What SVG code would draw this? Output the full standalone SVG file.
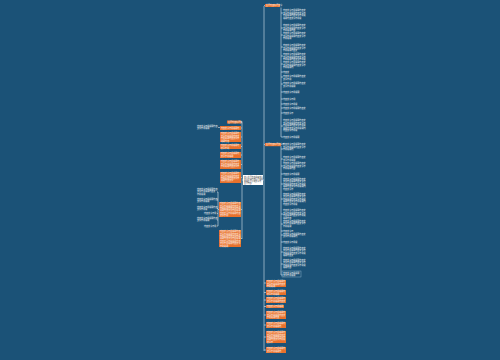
<svg xmlns="http://www.w3.org/2000/svg" width="500" height="360" viewBox="0 0 500 360">
<style>
.t{font-family:"Noto Sans CJK SC","Noto Sans",sans-serif;font-size:2.05px;fill:#ffffff}
.d{font-family:"Noto Sans CJK SC","Noto Sans",sans-serif;font-size:1.9px;fill:#333333}
.o{fill:#e8712c}
.ln{stroke:#d9e6ef;stroke-width:0.6;fill:none}
.ul{stroke:#9fc0d8;stroke-width:0.4}
</style>
<rect width="500" height="360" fill="#1b5277"/>
<g id="connectors" class="ln">
<path d="M262 180H264M264 6V351M264 5.5H265M264 144.5H265M264 283H266M264 292.5H266M264 300H266M264 306.5H266M264 315H266M264 325H266M264 337H266M264 350H266"/>
<path d="M281 7.5V137M281 13H283M281 28H283M281 35H283M281 47H283M281 56H283M281 64H283M281 72H283M281 77H283M281 84H283M281 92H283M281 99H283M281 104H283M281 108H283M281 113H283M281 126H283M281 137H283"/>
<path d="M281 146V275M281 149H283M281 159H283M281 166H283M281 174H283M281 184H283M281 199H283M281 214H283M281 224H283M281 231H283M281 235H283M281 242H283M281 252H283M281 264H283M281 275H283"/>
<path d="M243 180H242M242 122V239M242 122H241M242 128H241M242 137H241M242 146.5H241M242 155H241M242 164.5H241M242 177.5H241M242 209.5H241M242 238.5H241"/>
<path d="M220 127.5H218M219 209.5H218M218 192V226M218 192H217M218 200H217M218 208.5H217M218 213.5H217M218 220H217M218 226H217"/>
</g>
<g id="root"><rect x="243" y="175" width="20" height="10" fill="#ffffff"/><text class="d" x="244" y="177.5">中心主题内容说明文字<tspan x="244" dy="2.3">文字示例内容标题说明</tspan><tspan x="244" dy="2.3">说明主题示例文字内</tspan><tspan x="244" dy="2.3">主题内容</tspan></text></g>
<g id="r1"><rect class="o" x="265" y="4" width="15" height="3"/><text class="t" x="266" y="6.2">主题内容标题文字</text></g>
<g id="r2"><rect class="o" x="265" y="143" width="16" height="3.2"/><text class="t" x="266" y="145.3">主题内容标题文字示</text></g>
<g id="rt1"><text class="t" x="283" y="11">内容文字示例说明内容文<tspan x="283" dy="2.5">文字示例说明内容文字示</tspan><tspan x="283" dy="2.5">示例说明内容文字示例说</tspan><tspan x="283" dy="2.5">说明内容文字示例说</tspan></text></g>
<g id="rt2"><text class="t" x="283" y="26">内容文字示例说明内容文<tspan x="283" dy="2.5">文字示例说明内容文字示</tspan><tspan x="283" dy="2.5">示例说明内容</tspan></text></g>
<g id="rt3"><text class="t" x="283" y="34">内容文字示例说明内容文<tspan x="283" dy="2.5">文字示例说明内容文字示</tspan><tspan x="283" dy="2.5">示例说明</tspan></text></g>
<g id="rt4"><text class="t" x="283" y="46">内容文字示例说明内容文<tspan x="283" dy="2.5">文字示例说明内容文字示</tspan><tspan x="283" dy="2.5">示例说明内容文</tspan></text></g>
<g id="rt5"><text class="t" x="283" y="55">内容文字示例说明内容文<tspan x="283" dy="2.5">文字示例说明内容文字示</tspan><tspan x="283" dy="2.5">示例说明内容文字示例说</tspan></text></g>
<g id="rt6"><text class="t" x="283" y="63">内容文字示例说明内容文<tspan x="283" dy="2.5">文字示例说明内容文字示</tspan><tspan x="283" dy="2.5">示例说明内</tspan></text></g>
<g id="rt7"><text class="t" x="283" y="73">内容文</text></g>
<g id="rt8"><text class="t" x="283" y="77">内容文字示例说明内容文<tspan x="283" dy="2.5">文字示例</tspan></text></g>
<g id="rt9"><text class="t" x="283" y="84">内容文字示例说明内容文<tspan x="283" dy="2.5">文字示例说明</tspan></text></g>
<g id="rt10"><text class="t" x="283" y="93">内容文字示例说明</text></g>
<g id="rt11"><text class="t" x="283" y="100">内容文字示例</text></g>
<g id="rt12"><text class="t" x="283" y="105">内容文字示例说</text></g>
<g id="rt13"><text class="t" x="283" y="109">内容文字示例说明内容文</text></g>
<g id="rt14"><text class="t" x="283" y="114">内容文字示</text></g>
<g id="rt15"><text class="t" x="283" y="121">内容文字示例说明内容文<tspan x="283" dy="2.5">文字示例说明内容文字示</tspan><tspan x="283" dy="2.5">示例说明内容文字示例说</tspan><tspan x="283" dy="2.5">说明内容文字示例说明内</tspan><tspan x="283" dy="2.5">内容文字示例说</tspan></text></g>
<g id="rt16"><text class="t" x="283" y="138">内容文字示例说明</text></g>
<g id="rs1"><text class="t" x="283" y="145">内容文字示例说明内容文<tspan x="283" dy="2.5">文字示例说明内容文字示</tspan><tspan x="283" dy="2.5">示例说明内</tspan></text></g>
<g id="rs2"><text class="t" x="283" y="158">内容文字示例说明内容文<tspan x="283" dy="2.5">文字示例说明</tspan></text></g>
<g id="rs3"><text class="t" x="283" y="164">内容文字示例说明内容文<tspan x="283" dy="2.5">文字示例说明内容文字示</tspan><tspan x="283" dy="2.5">示例说明内容</tspan></text></g>
<g id="rs4"><text class="t" x="283" y="175">内容文字示例说明</text></g>
<g id="rs5"><text class="t" x="283" y="179.5">内容文字示例说明内容文<tspan x="283" dy="2.5">文字示例说明内容文字示</tspan><tspan x="283" dy="2.5">示例说明内容文字示例说</tspan><tspan x="283" dy="2.5">说明内容文字示例说明内</tspan><tspan x="283" dy="2.5">内容文字示</tspan></text></g>
<g id="rs6"><text class="t" x="283" y="194.5">内容文字示例说明内容文<tspan x="283" dy="2.5">文字示例说明内容文字示</tspan><tspan x="283" dy="2.5">示例说明内容文字示例说</tspan><tspan x="283" dy="2.5">说明内容文字示例说明内</tspan><tspan x="283" dy="2.5">内容文字示例说</tspan></text></g>
<g id="rs7"><text class="t" x="283" y="211">内容文字示例说明内容文<tspan x="283" dy="2.5">文字示例说明内容文字示</tspan><tspan x="283" dy="2.5">示例说明内容文字示例说</tspan><tspan x="283" dy="2.5">说明内容</tspan></text></g>
<g id="rs8"><text class="t" x="283" y="221.5">内容文字示例说明内容文<tspan x="283" dy="2.5">文字示例说明内容文字示</tspan><tspan x="283" dy="2.5">示例说明</tspan></text></g>
<g id="rs9"><text class="t" x="283" y="231.5">内容文字示</text></g>
<g id="rs10"><text class="t" x="283" y="234.5">内容文字示例说明内容文<tspan x="283" dy="2.5">文字示例说明内</tspan></text></g>
<g id="rs11"><text class="t" x="283" y="243">内容文字示例说</text></g>
<g id="rs12"><text class="t" x="283" y="248.5">内容文字示例说明内容文<tspan x="283" dy="2.5">文字示例说明内容文字示</tspan><tspan x="283" dy="2.5">示例说明内容文字示例说</tspan><tspan x="283" dy="2.5">说明内容文</tspan></text></g>
<g id="rs13"><text class="t" x="283" y="260.5">内容文字示例说明内容文<tspan x="283" dy="2.5">文字示例说明内容文字示</tspan><tspan x="283" dy="2.5">示例说明内容文字示例说</tspan><tspan x="283" dy="2.5">说明内容</tspan></text></g>
<g id="rs14"><rect x="282" y="271" width="19" height="6" fill="none" class="ul" stroke="#9fc0d8"/><text class="t" x="283" y="273.5">内容文字示例说明<tspan x="283" dy="2.5">文字示例说明</tspan></text></g>
<g id="b1"><rect class="o" x="266" y="280" width="20" height="7"/><text class="t" x="267" y="282.2">内容文字示例说明内<tspan x="267" dy="2.4">文字示例说明内容文</tspan><tspan x="267" dy="2.4">示例说明</tspan></text></g>
<g id="b2"><rect class="o" x="266" y="290" width="20" height="5"/><text class="t" x="267" y="292.2">内容文字示例说明内<tspan x="267" dy="2.4">文字示例说明</tspan></text></g>
<g id="b3"><rect class="o" x="266" y="297" width="20" height="6"/><text class="t" x="267" y="299.2">内容文字示例说明内<tspan x="267" dy="2.4">文字示例说明内容文</tspan></text></g>
<g id="b4"><rect class="o" x="266" y="305" width="18" height="3"/><text class="t" x="267" y="307.2">内容文字示例说明</text></g>
<g id="b5"><rect class="o" x="266" y="311" width="20" height="8"/><text class="t" x="267" y="313.2">内容文字示例说明内<tspan x="267" dy="2.4">文字示例说明内容文</tspan><tspan x="267" dy="2.4">示例说明内容</tspan></text></g>
<g id="b6"><rect class="o" x="266" y="322" width="20" height="6"/><text class="t" x="267" y="324.2">内容文字示例说明内<tspan x="267" dy="2.4">文字示例说明内</tspan></text></g>
<g id="b7"><rect class="o" x="266" y="331" width="20" height="12"/><text class="t" x="267" y="333.2">内容文字示例说明内<tspan x="267" dy="2.4">文字示例说明内容文</tspan><tspan x="267" dy="2.4">示例说明内容文字示</tspan><tspan x="267" dy="2.4">说明内容文字示例说</tspan><tspan x="267" dy="2.4">文字示</tspan></text></g>
<g id="b8"><rect class="o" x="266" y="347" width="20" height="6"/><text class="t" x="267" y="349.2">内容文字示例说明内<tspan x="267" dy="2.4">文字示例说明内</tspan></text></g>
<g id="l0"><rect class="o" x="227" y="120.5" width="14" height="3"/><text class="t" x="228" y="122.7">主题内容标题文</text></g>
<g id="l1"><rect class="o" x="220" y="126" width="21" height="4"/><text class="t" x="221" y="128.6">内容文字示例说明内</text></g>
<g id="l2"><rect class="o" x="220" y="132" width="21" height="10"/><text class="t" x="221" y="134.4">内容文字示例说明内<tspan x="221" dy="2.4">文字示例说明内容文</tspan><tspan x="221" dy="2.4">示例说明内容文字示</tspan><tspan x="221" dy="2.4">说明内容</tspan></text></g>
<g id="l3"><rect class="o" x="220" y="144" width="21" height="5"/><text class="t" x="221" y="146.2">内容文字示例说明内<tspan x="221" dy="2.4">文字示例</tspan></text></g>
<g id="l4"><rect class="o" x="220" y="152" width="21" height="6"/><text class="t" x="221" y="154.2">内容文字示例说明内<tspan x="221" dy="2.4">文字示例说明</tspan></text></g>
<g id="l5"><rect class="o" x="220" y="160" width="21" height="9"/><text class="t" x="221" y="162.2">内容文字示例说明内<tspan x="221" dy="2.4">文字示例说明内容文</tspan><tspan x="221" dy="2.4">示例说明内容文字示</tspan></text></g>
<g id="l6"><rect class="o" x="220" y="172" width="21" height="11"/><text class="t" x="221" y="174.2">内容文字示例说明内<tspan x="221" dy="2.4">文字示例说明内容文</tspan><tspan x="221" dy="2.4">示例说明内容文字示</tspan><tspan x="221" dy="2.4">说明内容文字</tspan></text></g>
<g id="l7"><rect class="o" x="219" y="202" width="22" height="15"/><text class="t" x="220" y="204.2">内容文字示例说明内容<tspan x="220" dy="2.4">文字示例说明内容文字</tspan><tspan x="220" dy="2.4">示例说明内容文字示例</tspan><tspan x="220" dy="2.4">说明内容文字示例说明</tspan><tspan x="220" dy="2.4">内容文字示例说明内容</tspan><tspan x="220" dy="2.4">文字示例</tspan></text></g>
<g id="l8"><rect class="o" x="219" y="230" width="22" height="17"/><text class="t" x="220" y="232.2">内容文字示例说明内容<tspan x="220" dy="2.4">文字示例说明内容文字</tspan><tspan x="220" dy="2.4">示例说明内容文字示例</tspan><tspan x="220" dy="2.4">说明内容文字示例说明</tspan><tspan x="220" dy="2.4">内容文字示例说明内容</tspan><tspan x="220" dy="2.4">文字示例说明内容文字</tspan><tspan x="220" dy="2.4">示例说明</tspan></text></g>
<g id="lt1"><text class="t" x="197" y="127">内容文字示例说明内容<tspan x="197" dy="2.4">文字示例说明</tspan></text></g>
<g id="lt2"><text class="t" x="197" y="190">内容文字示例说明内容<tspan x="197" dy="2.4">文字示例说明内容文</tspan><tspan x="197" dy="2.4">示例说明</tspan></text></g>
<g id="lt3"><text class="t" x="197" y="199.5">内容文字示例说明内容<tspan x="197" dy="2.4">文字示例说明</tspan></text></g>
<g id="lt4"><text class="t" x="197" y="208">内容文字示例说明内容<tspan x="197" dy="2.4">文字示例说</tspan></text></g>
<g id="lt5"><text class="t" x="204" y="214">内容文字示例</text></g>
<g id="lt6"><text class="t" x="197" y="219">内容文字示例说明内容<tspan x="197" dy="2.4">文字示例说明</tspan></text></g>
<g id="lt7"><text class="t" x="204" y="226.5">内容文字示例</text></g>
</svg>
